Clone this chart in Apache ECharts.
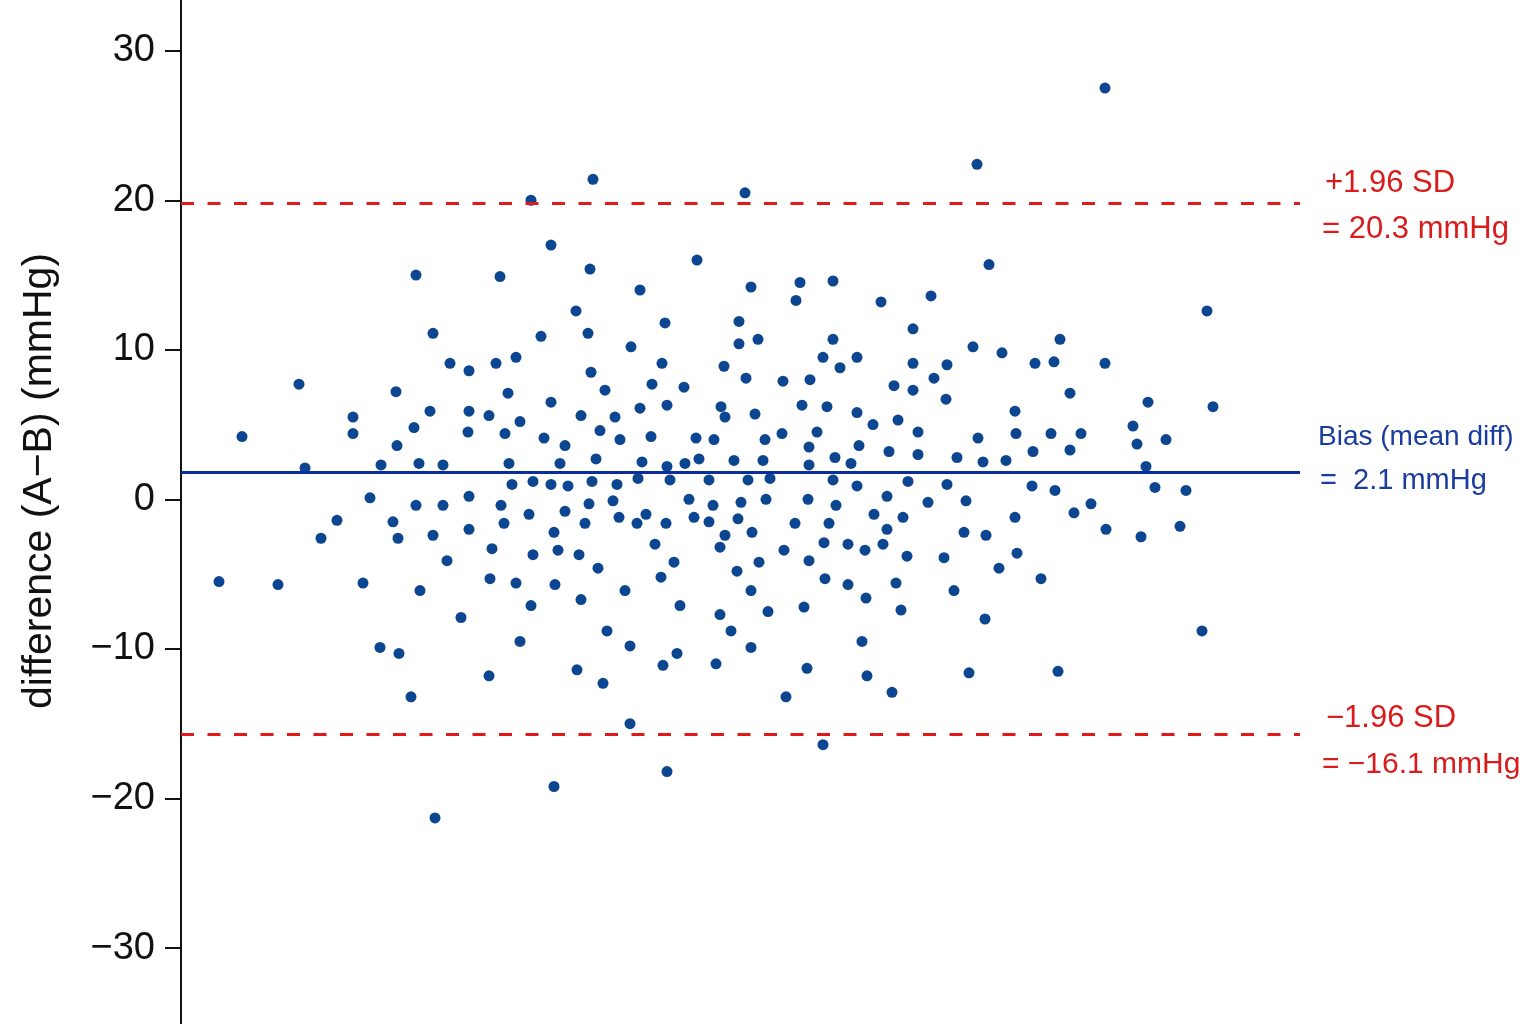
<!DOCTYPE html>
<html>
<head>
<meta charset="utf-8">
<script src="https://cdn.jsdelivr.net/npm/echarts@6/dist/echarts.min.js"></script>
<style>
html,body{margin:0;padding:0;background:#fff;}
#chart{width:1536px;height:1024px;}
</style>
</head>
<body>
<div id="chart"></div>
<script>
// Bland-Altman data: [mean (arbitrary units), difference A-B (mmHg)]
const measurements = [
  [21.9,-5.5],[24.2,4.2],[27.8,-5.7],[29.9,7.7],[30.5,2.1],[32.1,-2.6],
  [33.7,-1.4],[35.3,5.5],[35.3,4.4],[36.3,-5.6],[37.0,0.1],[38.0,-9.9],[38.1,2.3],[39.3,-1.5],[39.6,7.2],[39.7,3.6],
  [39.8,-2.6],[39.9,-10.3],[41.1,-13.2],[41.4,4.8],[41.6,15.0],[41.6,-0.4],[41.9,2.4],[42.0,-6.1],[43.0,5.9],[43.3,11.1],
  [43.3,-2.4],[43.5,-21.3],[44.3,2.3],[44.3,-0.4],[44.7,-4.1],[45.0,9.1],[46.1,-7.9],[46.8,4.5],[46.9,8.6],[46.9,5.9],
  [46.9,0.2],[46.9,-2.0],
  [48.9,5.6],[49.0,-5.3],[48.9,-11.8],[49.2,-3.3],[49.6,9.1],[50.0,14.9],[50.1,-0.4],[50.4,-1.6],[50.5,4.4],[50.8,7.1],
  [50.9,2.4],[51.2,1.0],[51.6,9.5],[51.6,-5.6],[52.0,5.2],[52.0,-9.5],[52.9,-1.0],[53.1,-7.1],[53.1,20.0],[53.3,1.2],
  [53.3,-3.7],[54.1,10.9],[54.4,4.1],[55.1,6.5],[55.1,1.0],[55.1,17.0],[55.4,-2.2],[55.4,-19.2],[55.5,-5.7],[55.8,-3.4],
  [56.0,2.4],[56.5,3.6],[56.5,-0.8],[56.8,0.9],[57.6,12.6],[57.7,-11.4],[57.9,-3.7],[58.1,5.6],[58.1,-6.7],[58.5,-1.6],
  [58.8,11.1],[58.9,-0.3],[59.0,15.4],[59.1,8.5],[59.2,1.2],[59.3,21.4],[59.6,2.7],[59.8,-4.6],[60.0,4.6],[60.3,-12.3],
  [60.5,7.3],[60.7,-8.8],[61.3,-0.1],[61.5,5.5],[61.7,1.0],[61.9,-1.2],[62.0,4.0],[62.5,-6.1],[63.0,-9.8],[63.1,10.2],
  [63.0,-15.0],
  [63.7,-1.6],[63.8,1.4],[64.0,14.0],[64.0,6.1],[64.2,2.5],[64.6,-1.0],[65.1,4.2],[65.2,7.7],[65.5,-3.0],[66.1,-5.2],
  [66.2,9.1],[66.3,-11.1],[66.5,11.8],[66.6,-1.6],[66.7,6.3],[66.7,2.2],[66.7,-18.2],[67.0,1.3],[67.4,-4.2],[67.7,-10.3],
  [68.0,-7.1],[68.4,7.5],[68.5,2.4],[68.9,0.0],[69.4,-1.2],[69.6,4.1],[69.7,16.0],[69.9,2.7],[70.9,1.3],[70.9,-1.5],
  [71.3,-0.4],[71.4,4.0],[71.6,-11.0],[72.0,-3.2],[72.0,-7.7],[72.1,6.2],[72.4,8.9],[72.5,5.5],[72.5,-2.4],[73.1,-8.8],
  [73.4,2.6],[73.7,-4.8],[73.8,-1.3],[73.9,11.9],[73.9,10.4],[74.1,-0.2],[74.5,20.5],[74.6,8.1],[74.8,1.3],[75.1,14.2],
  [75.1,-6.1],[75.1,-9.9],[75.2,-2.2],[75.5,5.7],[75.8,10.7],[75.9,-4.2],[76.3,2.6],[76.5,4.0],[76.6,0.0],[76.8,-7.5],
  [77.0,1.4],[78.2,4.4],[78.3,7.9],[78.4,-3.4],[78.6,-13.2],[79.5,-1.6],[79.6,13.3],[80.0,14.5],[80.2,6.3],[80.4,-7.2],
  [80.7,-11.3],[80.8,0.0],[80.9,3.5],[80.9,2.3],[80.9,-4.1],[81.0,8.0],[81.7,4.5],[82.3,9.5],[82.3,-16.4],[82.4,-2.9],
  [82.5,-5.3],[82.7,6.2],[82.9,-1.6],[83.3,14.6],[83.3,10.7],[83.3,1.3],[83.5,2.8],[83.6,-0.4],[84.0,8.8],[84.8,-3.0],
  [84.8,-5.7],[85.1,2.4],[85.7,9.5],[85.7,5.8],[85.7,0.9],[85.9,3.6],[86.2,-9.5],[86.5,-3.4],[86.6,-6.6],[86.7,-11.8],
  [87.3,5.0],[87.4,-1.0],[88.1,13.2],[88.3,-3.0],[88.7,0.2],[88.7,-2.0],[88.9,3.2],[89.2,-12.9],[89.4,7.6],[89.6,-5.6],
  [89.8,5.3],[90.1,-7.4],[90.3,-1.2],[90.7,-3.8],[90.8,1.2],[91.3,11.4],[91.3,9.1],[91.3,7.3],[91.8,4.5],[91.8,3.0],
  [92.8,-0.2],[93.1,13.6],[93.4,8.1],[94.4,-3.9],[94.6,6.7],[94.7,9.0],[94.7,1.0],[95.4,-6.1],[95.7,2.8],[96.4,-2.2],
  [96.6,-0.1],[96.9,-11.6],[97.3,10.2],[97.7,22.4],[97.8,4.1],[98.3,2.5],[98.5,-8.0],[98.6,-2.4],[98.9,15.7],[99.9,-4.6],
  [100.2,9.8],[100.6,2.6],[101.5,5.9],[101.6,4.4],[101.5,-1.2],[101.7,-3.6],[103.2,0.9],[103.3,3.2],[103.5,9.1],[104.1,-5.3],
  [105.1,4.4],[105.4,9.2],[105.5,0.6],[105.8,-11.5],[106.0,10.7],[107.0,7.1],[107.0,3.3],[107.4,-0.9],[108.1,4.4],[109.1,-0.3],
  [110.5,9.1],[110.6,-2.0],[110.5,27.5],[113.3,4.9],[113.7,3.7],[114.1,-2.5],[114.6,2.2],[114.8,6.5],[115.5,0.8],[116.6,4.0],
  [118.0,-1.8],[118.6,0.6],[120.2,-8.8],[120.7,12.6],[121.3,6.2]
];

// Reference lines as drawn (mmHg)
const biasLine = 1.8;
const upperLoA = 19.8;
const lowerLoA = -15.7;

// Tick values on the y axis
const yTicks = [-30, -20, -10, 0, 10, 20, 30];

// Annotation texts
const upperLabel = ['+1.96 SD', '= 20.3 mmHg'];
const biasLabel = ['Bias (mean diff)', '=  2.1 mmHg'];
const lowerLabel = ['\u22121.96 SD', '= \u221216.1 mmHg'];
const yTitle = 'difference (A\u2212B) (mmHg)';

const FONT = '"Liberation Sans", Arial, sans-serif';
const RED = '#d81c1c';
const BLUE_TXT = '#1a3c9c';

const chart = echarts.init(document.getElementById('chart'));
chart.setOption({
  animation: false,
  backgroundColor: '#ffffff',
  grid: { left: 181, right: 236, top: 0, bottom: 0, containLabel: false },
  xAxis: {
    type: 'value', min: 18.1, max: 130,
    show: false
  },
  yAxis: {
    type: 'value', min: -35.08, max: 33.39,
    axisLine: { show: true, lineStyle: { color: '#111', width: 2 } },
    axisTick: { show: true, length: 16, lineStyle: { color: '#111', width: 2 }, customValues: yTicks },
    axisLabel: {
      customValues: yTicks, margin: 26, fontSize: 38, color: '#111', fontFamily: FONT,
      formatter: v => (v < 0 ? '\u2212' + Math.abs(v) : String(v))
    },
    splitLine: { show: false }
  },
  series: [{
    type: 'scatter',
    data: measurements,
    symbolSize: 11,
    itemStyle: { color: '#0d4690', opacity: 1 },
    markLine: {
      silent: true,
      symbol: 'none',
      label: { show: false },
      data: [
        { yAxis: upperLoA, lineStyle: { color: '#e01a1a', width: 3, type: [13, 13.5], opacity: 1 } },
        { yAxis: lowerLoA, lineStyle: { color: '#e01a1a', width: 3, type: [13, 13.5], opacity: 1 } },
        { yAxis: biasLine, lineStyle: { color: '#0a2ea0', width: 3, type: 'solid', opacity: 1 } }
      ]
    }
  }],
  graphic: [
    { type: 'text', x: 40, y: 481, rotation: Math.PI / 2,
      style: { text: yTitle, font: '41px ' + FONT, fill: '#111', textAlign: 'center', textVerticalAlign: 'middle' } },
    { type: 'text', x: 1325, y: 183, style: { text: upperLabel[0], font: '31px ' + FONT, fill: RED, textAlign: 'left', textVerticalAlign: 'middle' } },
    { type: 'text', x: 1322, y: 229, style: { text: upperLabel[1], font: '31px ' + FONT, fill: RED, textAlign: 'left', textVerticalAlign: 'middle' } },
    { type: 'text', x: 1318, y: 437, style: { text: biasLabel[0], font: '28px ' + FONT, fill: BLUE_TXT, textAlign: 'left', textVerticalAlign: 'middle' } },
    { type: 'text', x: 1320, y: 481, style: { text: biasLabel[1], font: '29px ' + FONT, fill: BLUE_TXT, textAlign: 'left', textVerticalAlign: 'middle' } },
    { type: 'text', x: 1326, y: 718, style: { text: lowerLabel[0], font: '31px ' + FONT, fill: RED, textAlign: 'left', textVerticalAlign: 'middle' } },
    { type: 'text', x: 1322, y: 765, style: { text: lowerLabel[1], font: '30px ' + FONT, fill: RED, textAlign: 'left', textVerticalAlign: 'middle' } }
  ]
});
</script>
</body>
</html>
